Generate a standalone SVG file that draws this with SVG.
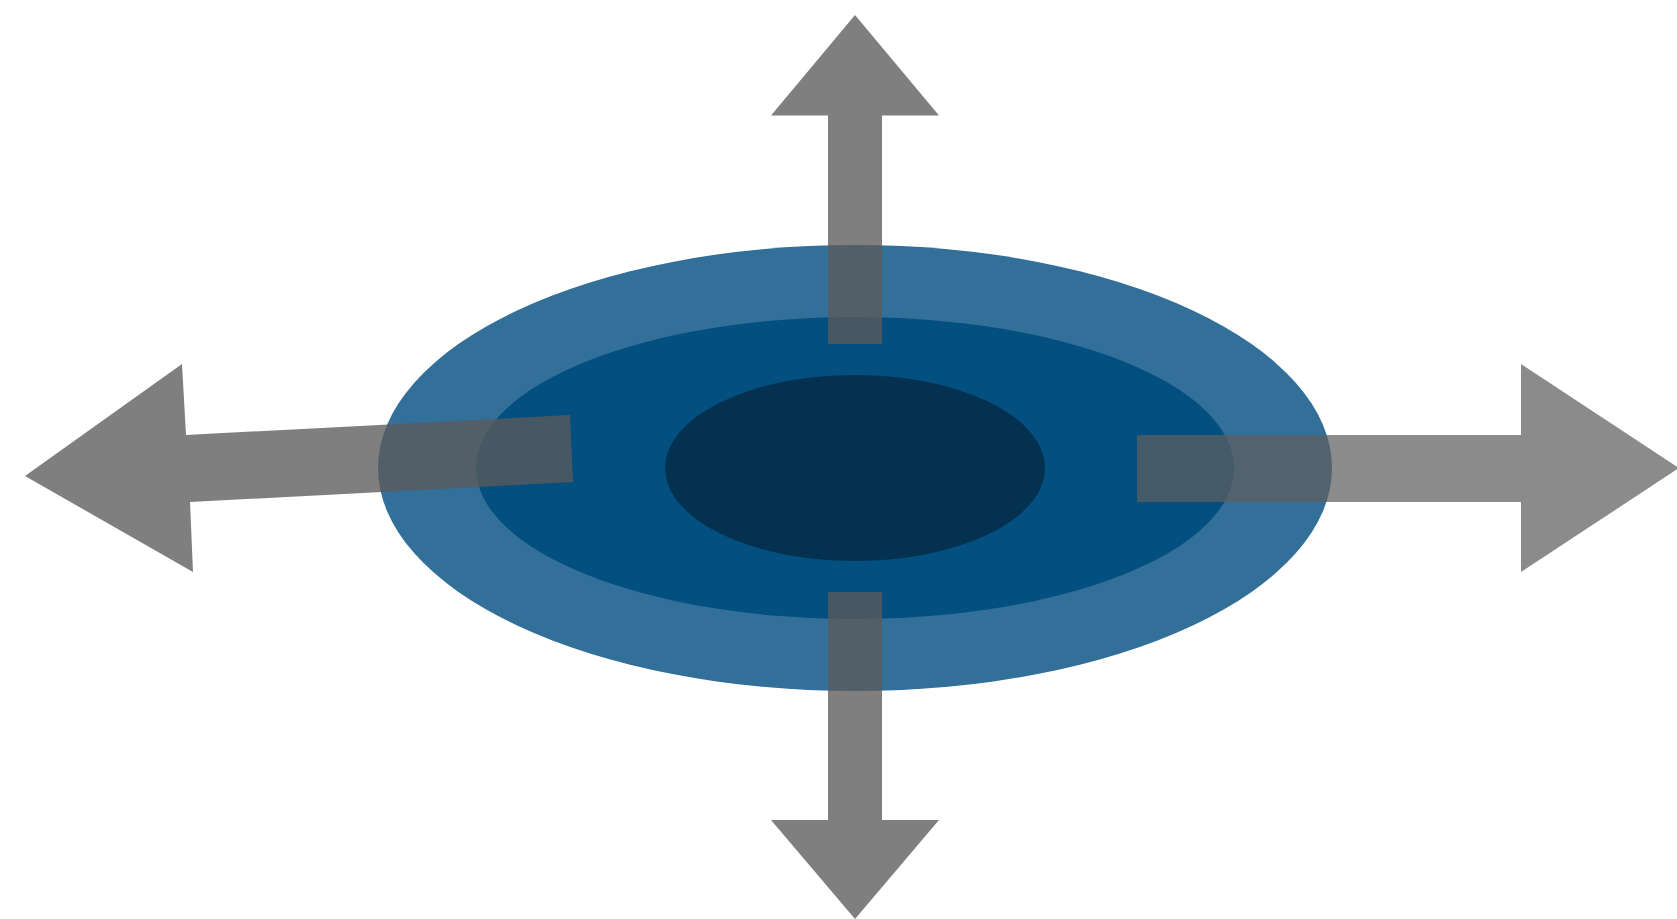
<svg xmlns="http://www.w3.org/2000/svg" width="1677" height="919" viewBox="0 0 1677 919">
  <style>
    .arrow { fill: #5b5b5b; fill-opacity: 0.78; }
    .arrow-light { fill: #5e5e5e; fill-opacity: 0.72; }
  </style>
  <rect width="1677" height="919" fill="#ffffff"/>
  <g id="target">
    <ellipse id="outer" cx="855" cy="468" rx="477" ry="223" fill="#326f99"/>
    <ellipse id="inner" cx="855" cy="468" rx="379" ry="151" fill="#034f7f"/>
    <ellipse id="core" cx="855" cy="468" rx="190" ry="93" fill="#03314f"/>
  </g>
  <g id="connectors">
    <polygon id="arrow-up" class="arrow" points="855,15 939,115.5 882,115.5 882,344 828,344 828,115.5 771,115.5"/>
    <polygon id="arrow-down" class="arrow" points="855,919 939,820 882,820 882,592 828,592 828,820 771,820"/>
    <polygon id="arrow-left" class="arrow" points="25,476 182,364 186,435 570,415 573,482 190,502 193,572"/>
    <polygon id="arrow-right" class="arrow-light" points="1679,468 1521,364 1521,435 1137,435 1137,502 1521,502 1521,572"/>
  </g>
</svg>
